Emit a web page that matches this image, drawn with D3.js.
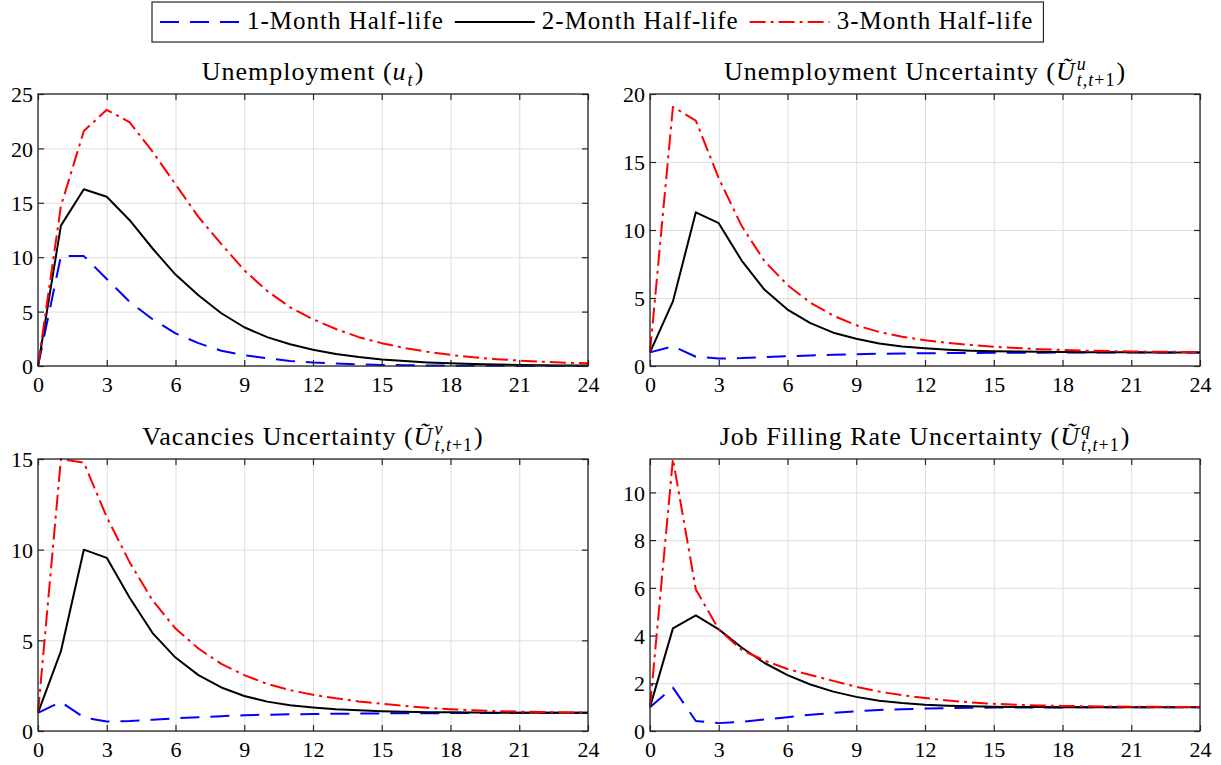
<!DOCTYPE html>
<html>
<head>
<meta charset="utf-8">
<script src="https://cdn.jsdelivr.net/npm/d3@7"></script>
<style>
  body { margin: 0; background: #fff; }
  svg text { font-family: 'Liberation Serif'; fill: #000; }
</style>
</head>
<body>
<svg id="chart" width="1221" height="765"></svg>
<script>
// horizon in months
var months = [0, 1, 2, 3, 4, 5, 6, 7, 8, 9, 10, 11, 12, 13, 14, 15, 16, 17, 18, 19, 20, 21, 22, 23, 24];
var xTicks = [0, 3, 6, 9, 12, 15, 18, 21, 24];
var seriesNames = ["1-Month Half-life", "2-Month Half-life", "3-Month Half-life"];

// Unemployment (u_t)
var unemp1 = [0, 10.1, 10.1, 8.0, 5.9, 4.3, 3.0, 2.1, 1.4, 1.0, 0.7, 0.47, 0.32, 0.22, 0.15, 0.1, 0.07, 0.05, 0.03, 0.02, 0.015, 0.01, 0.007, 0.005, 0.003];
var unemp2 = [0, 12.9, 16.25, 15.55, 13.4, 10.8, 8.4, 6.5, 4.85, 3.56, 2.65, 2.0, 1.5, 1.1, 0.82, 0.6, 0.45, 0.33, 0.25, 0.18, 0.13, 0.1, 0.07, 0.05, 0.04];
var unemp3 = [0, 14.7, 21.6, 23.55, 22.4, 19.7, 16.7, 13.7, 11.2, 8.8, 6.9, 5.4, 4.3, 3.4, 2.65, 2.1, 1.65, 1.3, 1.02, 0.8, 0.63, 0.5, 0.4, 0.31, 0.25];
var unempTicks = [0, 5, 10, 15, 20, 25];

// Unemployment uncertainty
var uUnc1 = [1, 1.45, 0.68, 0.55, 0.58, 0.65, 0.72, 0.78, 0.83, 0.87, 0.9, 0.92, 0.94, 0.95, 0.96, 0.97, 0.98, 0.98, 0.99, 0.99, 0.99, 1, 1, 1, 1];
var uUnc2 = [1, 4.75, 11.3, 10.5, 7.75, 5.6, 4.15, 3.15, 2.45, 2.0, 1.65, 1.43, 1.3, 1.2, 1.13, 1.09, 1.06, 1.04, 1.03, 1.02, 1.01, 1.01, 1, 1, 1];
var uUnc3 = [1, 19.05, 18.05, 13.8, 10.3, 7.7, 5.95, 4.65, 3.7, 3.0, 2.5, 2.15, 1.9, 1.7, 1.55, 1.42, 1.32, 1.24, 1.18, 1.13, 1.1, 1.07, 1.05, 1.04, 1.03];
var uUncTicks = [0, 5, 10, 15, 20];

// Vacancies uncertainty
var vUnc1 = [1, 1.6, 0.75, 0.52, 0.55, 0.62, 0.7, 0.76, 0.82, 0.87, 0.9, 0.92, 0.94, 0.95, 0.96, 0.97, 0.98, 0.98, 0.99, 0.99, 0.99, 1, 1, 1, 1];
var vUnc2 = [1, 4.4, 10.0, 9.55, 7.35, 5.4, 4.05, 3.08, 2.4, 1.93, 1.62, 1.42, 1.3, 1.2, 1.14, 1.09, 1.06, 1.04, 1.03, 1.02, 1.01, 1.01, 1, 1, 1];
var vUnc3 = [1, 15.0, 14.8, 11.8, 9.3, 7.2, 5.65, 4.55, 3.7, 3.08, 2.6, 2.25, 2.0, 1.8, 1.63, 1.5, 1.38, 1.28, 1.2, 1.14, 1.1, 1.07, 1.05, 1.03, 1.02];
var vUncTicks = [0, 5, 10, 15];

// Job filling rate uncertainty
var qUnc1 = [1, 1.82, 0.42, 0.33, 0.38, 0.48, 0.58, 0.68, 0.76, 0.83, 0.88, 0.91, 0.94, 0.96, 0.97, 0.98, 0.99, 0.99, 0.99, 1, 1, 1, 1, 1, 1];
var qUnc2 = [1, 4.3, 4.85, 4.26, 3.5, 2.85, 2.34, 1.95, 1.65, 1.43, 1.27, 1.17, 1.1, 1.06, 1.04, 1.02, 1.01, 1.01, 1, 1, 1, 1, 1, 1, 1];
var qUnc3 = [1, 11.4, 5.93, 4.26, 3.4, 2.95, 2.6, 2.35, 2.1, 1.85, 1.65, 1.5, 1.38, 1.28, 1.2, 1.14, 1.1, 1.07, 1.05, 1.04, 1.03, 1.02, 1.02, 1.01, 1.01];
var qUncTicks = [0, 2, 4, 6, 8, 10];

var colors = ["#0000ff", "#000000", "#ff0000"];
var dashes = ["19,11", null, "16,5,3,5"];
var serif = "'Liberation Serif'";

var panels = [
    { left: 38, top: 94, yMax: 25, yTicks: unempTicks, series: [unemp1, unemp2, unemp3],
      title: { pre: "Unemployment (", sym: "u", sup: null, sub: "t" } },
    { left: 650, top: 94, yMax: 20, yTicks: uUncTicks, series: [uUnc1, uUnc2, uUnc3],
      title: { pre: "Unemployment Uncertainty (", sym: "Ũ", sup: "u", sub: "t,t+1" } },
    { left: 38, top: 459, yMax: 15, yTicks: vUncTicks, series: [vUnc1, vUnc2, vUnc3],
      title: { pre: "Vacancies Uncertainty (", sym: "Ũ", sup: "v", sub: "t,t+1" } },
    { left: 650, top: 459, yMax: d3.max(qUnc3), yTicks: qUncTicks, series: [qUnc1, qUnc2, qUnc3],
      title: { pre: "Job Filling Rate Uncertainty (", sym: "Ũ", sup: "q", sub: "t,t+1" } }
];

var width = 550, height = 272;
var svg = d3.select("#chart");

// width of a piece of text, measured off-screen
var measure = function (str, size, italic) {
    var t = svg.append("text")
        .style("font-family", serif).style("font-size", size + "px")
        .style("letter-spacing", "1px")
        .style("font-style", italic ? "italic" : "normal").text(str);
    var w = t.node().getComputedTextLength();
    t.remove();
    return w;
};

// one text element: prefix, symbol, stacked super / subscript, ")"
var drawTitle = function (cx, baseline, t) {
    var wPre = measure(t.pre, 26, false);
    var wSym = measure(t.sym, 26, true) + 1;
    var wSup = t.sup ? measure(t.sup, 18, true) : 0;
    var wSub = measure(t.sub, 18, false);
    var wEnd = measure(")", 26, false);
    var total = wPre + wSym + Math.max(wSup, wSub) + 1 + wEnd;
    var x0 = cx - total / 2;
    var xs = x0 + wPre + wSym;

    var txt = svg.append("text")
        .attr("x", x0).attr("y", baseline)
        .style("font-family", serif)
        .style("font-size", "26px").style("letter-spacing", "1px");
    txt.append("tspan").text(t.pre);
    txt.append("tspan").style("font-style", "italic").text(t.sym);
    if (t.sup) {
        txt.append("tspan").attr("x", xs).attr("y", baseline - 10)
            .style("font-size", "18px").style("font-style", "italic").text(t.sup);
    }
    t.sub.split("").forEach(function (c, j) {
        var sp = txt.append("tspan").style("font-size", "18px")
            .style("font-style", /[a-z]/.test(c) ? "italic" : "normal").text(c);
        if (j === 0) sp.attr("x", xs).attr("y", baseline + 6);
    });
    txt.append("tspan").attr("x", xs + Math.max(wSup, wSub) + 1).attr("y", baseline).text(")");
};

panels.forEach(function (p, i) {
    var x = d3.scaleLinear().domain([0, 24]).range([0, width]);
    var y = d3.scaleLinear().domain([0, p.yMax]).range([height, 0]);
    var g = svg.append("g").attr("transform", "translate(" + p.left + "," + p.top + ")");

    // grid
    g.append("g")
        .attr("transform", "translate(0," + height + ")")
        .call(d3.axisBottom(x).tickValues(xTicks).tickSize(-height).tickFormat(""))
        .call(function (a) { a.select(".domain").remove(); a.selectAll("line").attr("stroke", "#dedede"); });
    g.append("g")
        .call(d3.axisLeft(y).tickValues(p.yTicks).tickSize(-width).tickFormat(""))
        .call(function (a) { a.select(".domain").remove(); a.selectAll("line").attr("stroke", "#dedede"); });

    // lines
    var clipId = "clip" + i;
    g.append("clipPath").attr("id", clipId)
        .append("rect").attr("x", -2).attr("y", -1).attr("width", width + 4).attr("height", height + 2);
    var line = d3.line()
        .x(function (d, j) { return x(months[j]); })
        .y(function (d) { return y(d); });
    p.series.forEach(function (s, k) {
        g.append("path")
            .datum(s)
            .attr("clip-path", "url(#" + clipId + ")")
            .attr("fill", "none")
            .attr("stroke", colors[k])
            .attr("stroke-width", 2)
            .attr("stroke-linejoin", "round")
            .attr("stroke-dasharray", dashes[k])
            .attr("d", line);
    });

    // axes: ticks inside on all four sides
    var styleAxis = function (a) {
        a.attr("font-family", "Liberation Serif");
        a.select(".domain").remove();
        a.selectAll("line").attr("stroke", "#262626").attr("stroke-width", 1.2);
        a.selectAll("text").attr("fill", "#262626").style("font-size", "22px")
            .style("font-family", serif);
    };
    g.append("g").attr("class", "xb").attr("transform", "translate(0," + height + ")")
        .call(d3.axisBottom(x).tickValues(xTicks).tickSize(-6).tickPadding(5))
        .call(styleAxis);
    g.append("g")
        .call(d3.axisTop(x).tickValues(xTicks).tickSize(-6).tickFormat(""))
        .call(styleAxis);
    g.append("g").attr("class", "yl")
        .call(d3.axisLeft(y).tickValues(p.yTicks).tickSize(-6).tickPadding(5))
        .call(styleAxis);
    g.append("g").attr("transform", "translate(" + width + ",0)")
        .call(d3.axisRight(y).tickValues(p.yTicks).tickSize(-6).tickFormat(""))
        .call(styleAxis);
    g.select(".xb").selectAll("text").attr("dy", null).attr("y", 26);
    g.select(".yl").selectAll("text").attr("dy", "0.35em");
    g.append("rect")
        .attr("width", width).attr("height", height)
        .attr("fill", "none").attr("stroke", "#262626").attr("stroke-width", 1.3);

    drawTitle(p.left + width / 2, p.top - 14, p.title);
});

// legend
var legend = svg.append("g");
var lx = 160;
seriesNames.forEach(function (name, k) {
    legend.append("line")
        .attr("x1", lx).attr("x2", lx + 80).attr("y1", 22).attr("y2", 22)
        .attr("stroke", colors[k]).attr("stroke-width", 2)
        .attr("stroke-dasharray", dashes[k]);
    var t = legend.append("text")
        .attr("x", lx + 87).attr("y", 29)
        .style("font-family", serif)
        .style("font-size", "25px").style("letter-spacing", "1px")
        .text(name);
    lx += 87 + t.node().getComputedTextLength() + 11;
});
legend.insert("rect", ":first-child")
    .attr("x", 152).attr("y", 2).attr("width", lx - 152 - 1).attr("height", 40)
    .attr("fill", "#fff").attr("stroke", "#262626").attr("stroke-width", 1.2);
</script>
</body>
</html>
